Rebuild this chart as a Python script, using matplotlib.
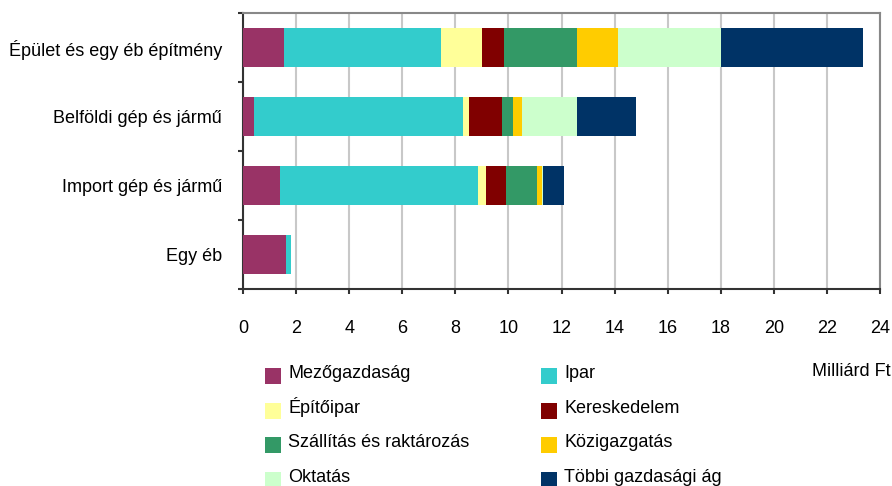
import matplotlib.pyplot as plt
from matplotlib.patches import Rectangle

plt.rcParams['font.family'] = ['Liberation Sans', 'DejaVu Sans']
plt.rcParams['font.size'] = 13

# Kategóriák (felülről lefelé)
kategoriak = ['Épület és egy éb építmény', 'Belföldi gép és jármű',
              'Import gép és jármű', 'Egy éb']

agak = ['Mezőgazdaság', 'Ipar', 'Építőipar', 'Kereskedelem',
        'Szállítás és raktározás', 'Közigazgatás', 'Oktatás',
        'Többi gazdasági ág']

szinek = ['#993366', '#33CCCC', '#FFFF99', '#800000',
          '#339966', '#FFCC00', '#CCFFCC', '#003366']

# Milliárd Ft, ágazatonként (kategóriák sorrendjében)
mezogazdasag = [1.54, 0.42, 1.40, 1.62]
ipar = [5.92, 7.88, 7.47, 0.18]
epitoipar = [1.54, 0.23, 0.30, 0.0]
kereskedelem = [0.83, 1.24, 0.75, 0.0]
szallitas = [2.75, 0.42, 1.14, 0.0]
kozigazgatas = [1.56, 0.34, 0.20, 0.0]
oktatas = [3.86, 2.07, 0.03, 0.0]
tobbi = [5.37, 2.19, 0.80, 0.0]

sorozatok = [mezogazdasag, ipar, epitoipar, kereskedelem,
             szallitas, kozigazgatas, oktatas, tobbi]

W, H = 892, 486
fig = plt.figure(figsize=(W / 100, H / 100), dpi=100)
ax = fig.add_axes([243 / W, 1 - 289 / H, 637 / W, 276 / H])

y = list(range(len(kategoriak)))
bal = [0.0] * len(kategoriak)
for ertekek, szin in zip(sorozatok, szinek):
    ax.barh(y, ertekek, left=bal, height=0.57, color=szin, zorder=3)
    bal = [b + v for b, v in zip(bal, ertekek)]

ax.set_xlim(0, 24)
ax.set_ylim(3.5, -0.5)
ax.set_xticks(range(0, 25, 2))
ax.grid(axis='x', color='#c8c8c8', linewidth=1.5, zorder=0)

ax.set_yticks([-0.5, 0.5, 1.5, 2.5, 3.5])
ax.set_yticklabels([])
ax.set_yticks(y, minor=True)
ax.set_yticklabels(kategoriak, minor=True)
ax.tick_params(axis='y', which='minor', length=0, pad=15)
ax.tick_params(axis='y', which='major', length=3.5, width=1.5, color='#333333')
ax.tick_params(axis='x', length=3.5, width=1.5, color='#333333', pad=19)

for s in ['left', 'bottom']:
    ax.spines[s].set_color('#333333')
    ax.spines[s].set_linewidth(1.5)
for s in ['top', 'right']:
    ax.spines[s].set_color('#888888')
    ax.spines[s].set_linewidth(1.5)

# Jelmagyarázat két oszlopban, soronként balról jobbra
oszlop_x = [265, 541]
for i, (nev, szin) in enumerate(zip(agak, szinek)):
    sor, oszlop = divmod(i, 2)
    x0 = oszlop_x[oszlop]
    alap = 378 + 34.7 * sor
    fig.add_artist(Rectangle((x0 / W, 1 - (alap + 6) / H), 16 / W, 16 / H,
                             facecolor=szin, edgecolor='none',
                             transform=fig.transFigure))
    fig.text((x0 + 23) / W, 1 - alap / H, nev, ha='left', va='baseline')

fig.text(0.998, 1 - 372 / H, 'Milliárd Ft', ha='right', va='center')

fig.savefig('out.png', dpi=100)
